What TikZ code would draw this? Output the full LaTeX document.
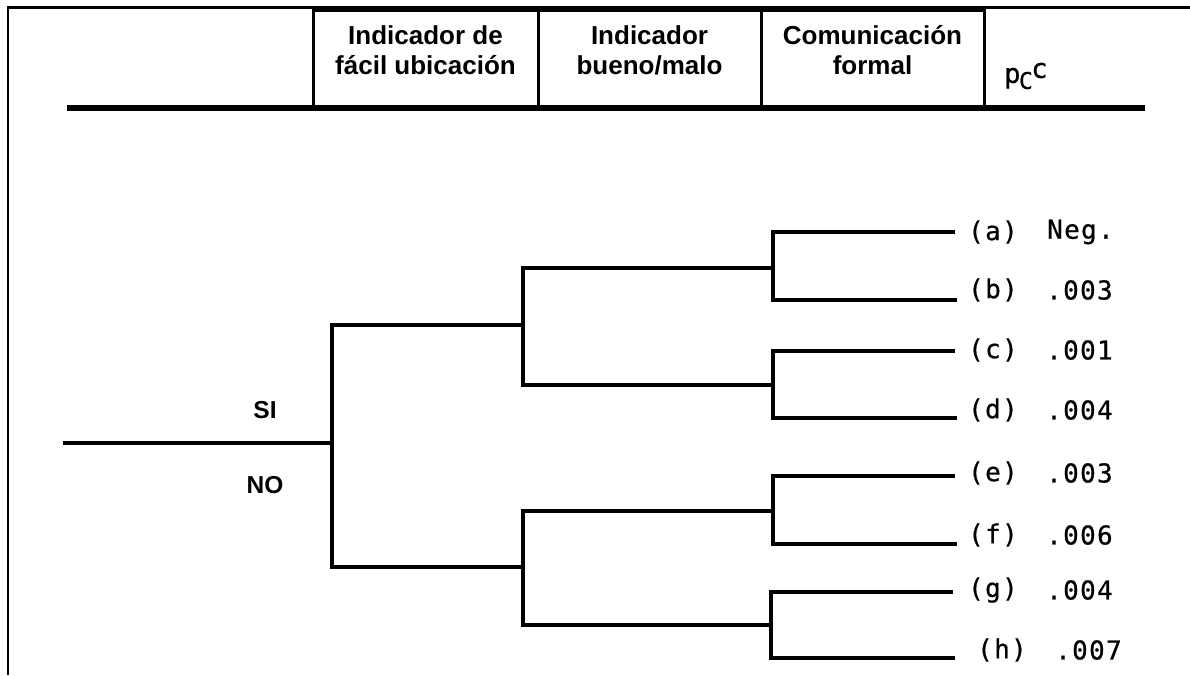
\documentclass[tikz,border=0pt]{standalone}
\usepackage{fontspec}
\setmainfont{Liberation Sans}
\newfontfamily\monof[LetterSpace=5,FakeBold=0.6]{DejaVu Sans Mono}
\newfontfamily\monop[FakeBold=0.6]{DejaVu Sans Mono}
\begin{document}
\begin{tikzpicture}[x=1pt,y=-1pt,
  hbox/.style={draw,line width=3pt,minimum width=#1,minimum height=98pt,inner sep=0pt},
  htext/.style={align=center,inner sep=0pt,font=\fontsize{26}{30}\selectfont\bfseries},
  yn/.style={inner sep=0pt,font=\fontsize{24.5}{28}\selectfont\bfseries},
  lbl/.style={anchor=west,inner sep=0pt,font=\fontsize{26}{28}\selectfont\monof},
  branch/.style={line width=4.6pt,line join=miter}]
\useasboundingbox (0,0) rectangle (1190,675);
% frame
\coordinate (fb) at (8,675);
\coordinate (ft) at (8,7.5);
\coordinate (fr) at (1190,7.5);
\draw[line width=2.5pt] (fb) -- (ft) -- (fr);
% header boxes
\node[hbox=225pt] (b1) at (425.5,59) {};
\node[hbox=223pt] (b2) at (649.5,59) {};
\node[hbox=223pt] (b3) at (872.5,59) {};
\node[htext] (t1) at (425.5,50) {Indicador de\\fácil ubicación};
\node[htext] (t2) at (649.5,50) {Indicador\\bueno/malo};
\node[htext] (t3) at (872.5,50) {Comunicación\\formal};
\node[anchor=west,inner sep=0pt,font=\fontsize{27}{30}\selectfont\monop] (pc) at (1004,76)
  {p\kern-1.5pt\raisebox{-6pt}{\fontsize{23}{24}\selectfont C}\kern-1.5pt\raisebox{5pt}{c}};
\coordinate (hl) at (67,108);
\coordinate (hr) at (1145,108);
\draw[line width=5.5pt] (hl) -- (hr);
% tree forks
\coordinate (r) at (63,443);
\coordinate (n0) at (332,443);
\coordinate (n1) at (523,325);
\coordinate (n2) at (523,567);
\coordinate (n11) at (773,268);
\coordinate (n12) at (773,385);
\coordinate (n21) at (773,511);
\coordinate (n22) at (771,625);
% leaf ends
\coordinate (ea) at (955,232);
\coordinate (eb) at (957,300);
\coordinate (ec) at (955,351);
\coordinate (ed) at (957,418);
\coordinate (ef1) at (955,476);
\coordinate (ef) at (957,544);
\coordinate (eg) at (953,592);
\coordinate (eh) at (955,658);
\draw[branch] (r) -- (n0);
\draw[branch] (n1) -- (n1 -| n0) -- (n2 -| n0) -- (n2);
\draw[branch] (n11) -- (n11 -| n1) -- (n12 -| n1) -- (n12);
\draw[branch] (n21) -- (n21 -| n2) -- (n22 -| n2) -- (n22);
\draw[branch] (ea) -- (ea -| n11) -- (eb -| n11) -- (eb);
\draw[branch] (ec) -- (ec -| n12) -- (ed -| n12) -- (ed);
\draw[branch] (ef1) -- (ef1 -| n21) -- (ef -| n21) -- (ef);
\draw[branch] (eg) -- (eg -| n22) -- (eh -| n22) -- (eh);
% SI / NO
\node[yn] (si) at (265,410) {SI};
\node[yn] (no) at (265,485) {NO};
% leaf labels
\node[lbl] (la) at (968,232) {(a)};
\node[lbl] (va) at (1047,232) {Neg.};
\node[lbl] (lb) at (968,290) {(b)};
\node[lbl] (vb) at (1046,290) {.003};
\node[lbl] (lc) at (968,350) {(c)};
\node[lbl] (vc) at (1046,350) {.001};
\node[lbl] (ld) at (968,410) {(d)};
\node[lbl] (vd) at (1046,410) {.004};
\node[lbl] (le) at (968,473) {(e)};
\node[lbl] (ve) at (1046,473) {.003};
\node[lbl] (lf) at (968,535) {(f)};
\node[lbl] (vf) at (1046,535) {.006};
\node[lbl] (lg) at (968,590) {(g)};
\node[lbl] (vg) at (1046,590) {.004};
\node[lbl] (lh) at (977,650) {(h)};
\node[lbl] (vh) at (1055,650) {.007};
\end{tikzpicture}
\end{document}
